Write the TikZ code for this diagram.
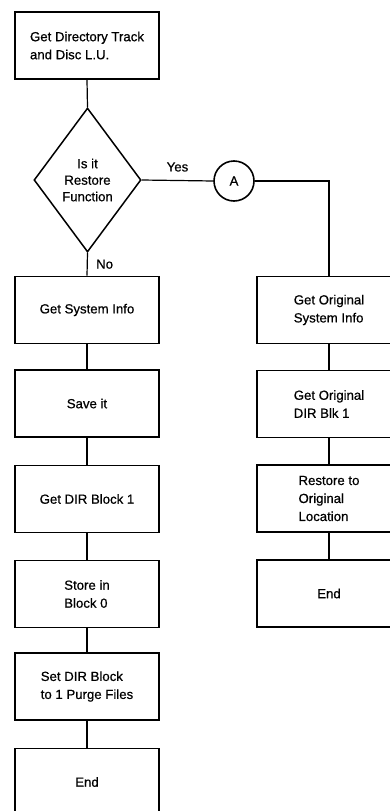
\documentclass[tikz,border=0pt]{standalone}
\usepackage{fontspec}
\setmainfont[FakeBold=0.6]{Liberation Sans}
\usetikzlibrary{shapes.geometric}
\begin{document}
\begin{tikzpicture}[x=1pt,y=-1pt,
  every node/.style={font=\fontsize{13.2}{18}\selectfont},
  box/.style={draw, line width=1.9pt, rectangle, minimum width=144pt, minimum height=67pt, align=left, inner sep=0pt},
  dec/.style={draw, line width=1.5pt, diamond, aspect=0.743, minimum width=107pt, minimum height=144pt, inner sep=0pt, align=center, font=\fontsize{13.2}{16.5}\selectfont},
  conn/.style={draw, line width=1.2pt},
  circ/.style={draw, line width=1.6pt, circle, minimum size=40pt, inner sep=0pt}]
\clip (0,0) rectangle (390,811);
\fill[white] (0,0) rectangle (390,811);
% left column
\node[box] (b1) at (87,45.5) {Get Directory Track\\and Disc L.U.};
\node[dec] (d) at (87.5,180) {Is it\\Restore\\Function};
\node[box] (b2) at (87,310) {Get System Info};
\node[box] (b3) at (87,403.5) {Save it};
\node[box] (b4) at (87,499) {Get DIR Block 1};
\node[box] (b5) at (87,594) {Store in\\Block 0};
\node[box] (b6) at (87,686.5) {Set DIR Block\\to 1 Purge Files};
\node[box] (b7) at (87,782) {End};
% right column
\node[circ] (A) at (234,181) {A};
\node[box] (r1) at (329,310) {Get Original\\System Info};
\node[box] (r2) at (329,404) {Get Original\\DIR Blk 1};
\node[box] (r3) at (329,498.5) {Restore to\\Original\\Location};
\node[box] (r4) at (329,593.5) {End};
% connectors
\draw[conn] (b1.south) -- (d.north);
\draw[conn] (d.south) -- node[right=5pt] {No} (b2.north);
\draw[conn] (b2) -- (b3);
\draw[conn] (b3) -- (b4);
\draw[conn] (b4) -- (b5);
\draw[conn] (b5) -- (b6);
\draw[conn] (b6) -- (b7);
\draw[conn] (d.east) -- node[above=5pt] {Yes} (A.west);
\draw[conn] (A.east) -| (r1.north);
\draw[conn] (r1) -- (r2);
\draw[conn] (r2) -- (r3);
\draw[conn] (r3) -- (r4);
\end{tikzpicture}
\end{document}
